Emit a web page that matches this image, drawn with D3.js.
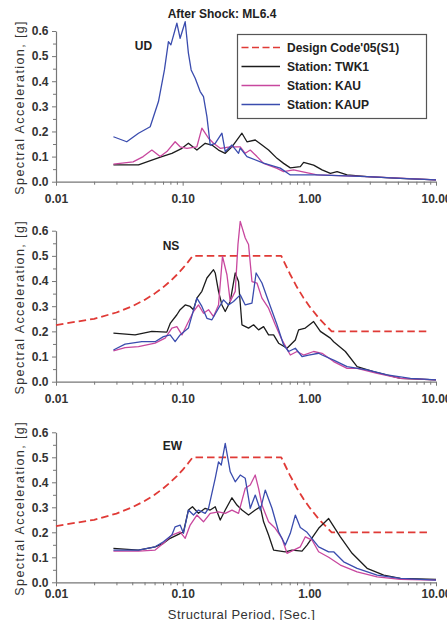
<!DOCTYPE html>
<html>
<head>
<meta charset="utf-8">
<script src="https://cdn.jsdelivr.net/npm/d3@7"></script>
<style>
  body { margin: 0; background: #fff; }
  text { font-family: "Liberation Sans", Arial, sans-serif; }
</style>
</head>
<body>
<svg id="chart" width="447" height="620"></svg>
<script>
// period [sec], spectral acceleration [g]

var designCode = [[0.01,0.225],[0.02,0.25],[0.03,0.275],[0.04,0.30],[0.05,0.325],[0.06,0.35],[0.07,0.375],
  [0.08,0.40],[0.09,0.425],[0.10,0.45],[0.11,0.475],[0.12,0.5],[0.6,0.5],[0.7,0.43],[0.8,0.375],
  [0.9,0.333],[1.0,0.30],[1.2,0.25],[1.5,0.2],[8.5,0.2]];

// UD
var udTWK1 = [[0.0284,0.067],[0.0448,0.067],[0.0571,0.086],[0.0685,0.10],[0.0822,0.113],[0.0987,0.133],
  [0.111,0.153],[0.1295,0.126],[0.1506,0.153],[0.1702,0.146],[0.1919,0.126],[0.2168,0.113],[0.2449,0.139],
  [0.2938,0.193],[0.3218,0.159],[0.3741,0.166],[0.4227,0.146],[0.4766,0.126],[0.5556,0.093],[0.6264,0.073],
  [0.7076,0.055],[0.8488,0.06],[0.9016,0.077],[1.081,0.066],[1.26,0.047],[1.466,0.033],[1.656,0.04],
  [1.986,0.027],[2.858,0.02],[5.24,0.013],[10,0.007]];
var udKAU = [[0.0284,0.07],[0.0406,0.079],[0.0488,0.10],[0.0571,0.126],[0.0664,0.10],[0.075,0.12],
  [0.0872,0.159],[0.0955,0.139],[0.108,0.133],[0.1295,0.139],[0.1418,0.213],[0.1506,0.193],[0.16,0.173],
  [0.1752,0.153],[0.198,0.133],[0.2374,0.139],[0.2848,0.139],[0.3119,0.113],[0.3417,0.126],[0.386,0.10],
  [0.4353,0.073],[0.5556,0.053],[0.6264,0.04],[0.7514,0.047],[1.15,0.027],[2.858,0.02],[10,0.007]];
var udKAUP = [[0.0284,0.179],[0.0362,0.159],[0.0448,0.193],[0.0554,0.219],[0.0644,0.319],[0.0718,0.445],
  [0.0772,0.558],[0.0807,0.545],[0.09,0.631],[0.0955,0.571],[0.1047,0.637],[0.111,0.512],[0.1167,0.445],
  [0.1256,0.412],[0.1375,0.359],[0.146,0.339],[0.1554,0.259],[0.165,0.146],[0.1807,0.153],[0.2041,0.193],
  [0.2168,0.12],[0.2449,0.146],[0.2761,0.113],[0.2848,0.134],[0.3218,0.10],[0.4353,0.074],[0.59,0.054],
  [0.7076,0.027],[1.15,0.027],[2.858,0.02],[5.24,0.013],[10,0.007]];

// NS
var nsTWK1 = [[0.0284,0.193],[0.0421,0.186],[0.0571,0.20],[0.075,0.197],[0.08,0.233],[0.09,0.266],
  [0.0955,0.286],[0.1047,0.305],[0.1146,0.299],[0.1217,0.286],[0.1295,0.332],[0.1418,0.359],[0.1554,0.412],
  [0.1752,0.445],[0.1807,0.432],[0.1919,0.359],[0.2041,0.305],[0.2168,0.279],[0.2374,0.319],[0.26,0.432],
  [0.2761,0.398],[0.2938,0.226],[0.3312,0.213],[0.3629,0.226],[0.3974,0.206],[0.4353,0.219],[0.4766,0.186],
  [0.5222,0.186],[0.572,0.153],[0.6664,0.133],[0.775,0.166],[0.8229,0.206],[0.9298,0.213],[1.081,0.239],
  [1.222,0.2],[1.466,0.173],[1.556,0.159],[1.926,0.12],[2.383,0.06],[3.206,0.04],[5.24,0.013],[10,0.007]];
var nsKAU = [[0.0284,0.122],[0.0351,0.135],[0.0448,0.139],[0.0606,0.153],[0.0727,0.173],[0.0822,0.213],
  [0.09,0.219],[0.0987,0.186],[0.108,0.226],[0.1217,0.279],[0.1333,0.305],[0.146,0.272],[0.16,0.286],
  [0.1752,0.259],[0.1919,0.305],[0.2063,0.498],[0.2236,0.425],[0.2374,0.319],[0.26,0.359],[0.2732,0.545],
  [0.2848,0.637],[0.3119,0.571],[0.3312,0.545],[0.3524,0.398],[0.386,0.392],[0.4227,0.332],[0.4766,0.292],
  [0.5386,0.226],[0.6085,0.166],[0.7076,0.106],[0.7993,0.12],[0.9016,0.106],[1.081,0.12],[1.26,0.113],
  [1.556,0.08],[1.986,0.053],[2.383,0.053],[3.43,0.033],[5.24,0.013],[10,0.007]];
var nsKAUP = [[0.0284,0.126],[0.0351,0.149],[0.0476,0.159],[0.0606,0.159],[0.0705,0.179],[0.0796,0.186],
  [0.0872,0.159],[0.0955,0.186],[0.111,0.213],[0.1295,0.332],[0.1418,0.299],[0.1554,0.252],[0.1702,0.246],
  [0.1919,0.292],[0.2101,0.325],[0.2301,0.305],[0.2521,0.319],[0.2848,0.345],[0.3119,0.305],[0.3524,0.312],
  [0.38,0.432],[0.4227,0.392],[0.4766,0.319],[0.5556,0.226],[0.6264,0.146],[0.6861,0.12],[0.775,0.133],
  [0.8756,0.10],[0.9874,0.106],[1.184,0.113],[1.26,0.106],[1.556,0.086],[1.986,0.06],[2.858,0.047],
  [4.113,0.027],[6.285,0.013],[10,0.007]];

// EW
var ewTWK1 = [[0.0284,0.136],[0.0448,0.129],[0.0606,0.142],[0.0705,0.156],[0.0796,0.176],[0.09,0.189],
  [0.1015,0.202],[0.111,0.289],[0.1195,0.302],[0.1333,0.276],[0.1506,0.296],[0.165,0.289],[0.1807,0.302],
  [0.198,0.249],[0.2168,0.289],[0.2449,0.338],[0.2682,0.309],[0.2938,0.289],[0.3312,0.269],[0.3741,0.289],
  [0.41,0.302],[0.4353,0.242],[0.4766,0.189],[0.5222,0.129],[0.6461,0.122],[0.7298,0.129],[0.8756,0.125],
  [0.959,0.149],[1.184,0.216],[1.421,0.255],[1.758,0.182],[2.176,0.116],[2.858,0.056],[3.867,0.029],
  [5.24,0.016],[10,0.012]];
var ewKAU = [[0.0284,0.125],[0.0448,0.125],[0.0606,0.129],[0.0705,0.156],[0.0822,0.189],[0.0955,0.202],
  [0.1047,0.176],[0.1146,0.229],[0.1295,0.269],[0.146,0.242],[0.165,0.276],[0.1919,0.282],[0.2168,0.276],
  [0.2449,0.289],[0.2761,0.276],[0.3119,0.376],[0.3417,0.389],[0.3741,0.429],[0.3974,0.376],[0.4227,0.309],
  [0.4766,0.242],[0.5386,0.216],[0.6085,0.176],[0.6664,0.116],[0.7514,0.129],[0.8488,0.142],[0.9298,0.182],
  [1.05,0.169],[1.184,0.122],[1.421,0.10],[1.758,0.069],[2.383,0.042],[3.43,0.022],[5.24,0.012],[10,0.009]];
var ewKAUP = [[0.0284,0.129],[0.0448,0.129],[0.0606,0.142],[0.0705,0.162],[0.0822,0.189],[0.0872,0.222],
  [0.0955,0.229],[0.1015,0.196],[0.111,0.289],[0.1217,0.269],[0.1333,0.289],[0.1506,0.276],[0.16,0.296],
  [0.1807,0.416],[0.1919,0.482],[0.2016,0.469],[0.2168,0.556],[0.2374,0.442],[0.26,0.402],[0.2848,0.429],
  [0.3119,0.416],[0.3417,0.296],[0.3741,0.349],[0.41,0.289],[0.4487,0.369],[0.5072,0.296],[0.572,0.202],
  [0.6461,0.149],[0.7076,0.196],[0.775,0.269],[0.8488,0.219],[0.959,0.2],[1.184,0.142],[1.421,0.122],
  [1.556,0.122],[1.867,0.082],[2.383,0.056],[3.43,0.029],[5.24,0.016],[10,0.009]];

var seriesNames = ["Design Code'05(S1)", "Station: TWK1", "Station: KAU", "Station: KAUP"];
var seriesColors = ["#e03a36", "#1c1c1c", "#c8479e", "#3a4cae"];
var xTicks = [0.01, 0.1, 1, 10];
var xTickLabels = ["0.01", "0.10", "1.00", "10.00"];
var yTicks = [0, 0.1, 0.2, 0.3, 0.4, 0.5, 0.6];

var panels = [
  {name: "UD", top: 31, bottom: 181.7, labDy: 8.5, curves: [null, udTWK1, udKAU, udKAUP], lab: [143.5, 49.5]},
  {name: "NS", top: 230.7, bottom: 381.7, labDy: 8.5, curves: [designCode, nsTWK1, nsKAU, nsKAUP], lab: [171, 249.5]},
  {name: "EW", top: 432.3, bottom: 582.3, labDy: 3.5, curves: [designCode, ewTWK1, ewKAU, ewKAUP], lab: [172.5, 449.5]}
];

var svg = d3.select("#chart");

var x = d3.scaleLog()
          .domain([0.01, 10])
          .range([56, 436]);

var minorX = [];
[0.01, 0.1, 1].forEach(function(dec){
  for (var k = 2; k <= 9; k++) minorX.push(dec * k);
});

panels.forEach(function(p){
  var y = d3.scaleLinear()
            .domain([0, 0.6])
            .range([p.bottom, p.top]);

  var g = svg.append("g");

  // minor ticks
  g.append("g")
    .attr("transform", "translate(0," + p.bottom + ")")
    .call(d3.axisBottom(x).tickValues(minorX).tickSize(3).tickFormat(""))
    .call(s => s.select(".domain").remove())
    .selectAll("line").attr("stroke", "#777");

  g.append("g")
    .attr("transform", "translate(56,0)")
    .call(d3.axisLeft(y).tickValues(d3.range(0.05, 0.6, 0.1)).tickSize(3).tickFormat(""))
    .call(s => s.select(".domain").remove())
    .selectAll("line").attr("stroke", "#777");

  // major axes
  var xAxis = g.append("g")
    .attr("transform", "translate(0," + p.bottom + ")")
    .call(d3.axisBottom(x).tickValues(xTicks).tickSize(4).tickSizeOuter(0).tickPadding(p.labDy)
      .tickFormat((d, i) => xTickLabels[i]));
  var yAxis = g.append("g")
    .attr("transform", "translate(56,0)")
    .call(d3.axisLeft(y).tickValues(yTicks).tickSize(4).tickSizeOuter(0).tickPadding(3.5)
      .tickFormat(d3.format(".1f")));

  [xAxis, yAxis].forEach(function(a){
    a.selectAll(".domain").attr("stroke", "#777").attr("stroke-width", 1.2);
    a.selectAll(".tick line").attr("stroke", "#777");
    a.selectAll("text")
      .attr("fill", "#333")
      .style("font-size", "12px")
      .style("font-weight", "bold")
      .style("font-family", "'Liberation Sans', Arial, sans-serif");
  });

  // y label
  svg.append("text")
    .attr("transform", "translate(24," + ((p.top + p.bottom) / 2 + 1) + ") rotate(-90)")
    .attr("text-anchor", "middle")
    .style("font-size", "12.5px")
    .style("letter-spacing", "1.4px")
    .attr("fill", "#333")
    .text("Spectral Acceleration, [g]");

  var line = d3.line()
               .x(d => x(d[0]))
               .y(d => y(d[1]));

  p.curves.forEach(function(c, i){
    if (!c) return;
    g.append("path")
      .datum(c)
      .attr("d", line)
      .attr("fill", "none")
      .attr("stroke", seriesColors[i])
      .attr("stroke-width", i == 0 ? 1.8 : 1.3)
      .attr("stroke-dasharray", i == 0 ? "7.5,4" : null)
      .attr("stroke-linejoin", "round");
  });

  svg.append("text")
    .attr("x", p.lab[0])
    .attr("y", p.lab[1])
    .attr("text-anchor", "middle")
    .style("font-size", "12px")
    .style("font-weight", "bold")
    .attr("fill", "#222")
    .text(p.name);
});

// title
svg.append("text")
  .attr("x", 222)
  .attr("y", 17.5)
  .attr("text-anchor", "middle")
  .style("font-size", "12px")
  .style("font-weight", "bold")
  .attr("fill", "#222")
  .text("After Shock: ML6.4");

// x label
svg.append("text")
  .attr("x", 241.5)
  .attr("y", 619)
  .attr("text-anchor", "middle")
  .style("font-size", "13px")
  .style("letter-spacing", "0.4px")
  .attr("fill", "#333")
  .text("Structural Period, [Sec.]");

// legend
var legend = svg.append("g").attr("class", "legend");
legend.append("rect")
  .attr("x", 237.5).attr("y", 34.5)
  .attr("width", 189).attr("height", 84)
  .attr("fill", "#fff")
  .attr("stroke", "#555")
  .attr("stroke-width", 1.2);

seriesNames.forEach(function(name, i){
  var ly = 47.5 + i * 19;
  legend.append("line")
    .attr("x1", 241.5).attr("x2", 280)
    .attr("y1", ly).attr("y2", ly)
    .attr("stroke", seriesColors[i])
    .attr("stroke-width", i == 0 ? 1.6 : 1.3)
    .attr("stroke-dasharray", i == 0 ? "7,3.5" : null);
  legend.append("text")
    .attr("x", 287).attr("y", ly)
    .attr("dy", "0.36em")
    .style("font-size", "12px")
    .style("font-weight", "bold")
    .attr("fill", "#222")
    .text(name);
});
</script>
</body>
</html>
